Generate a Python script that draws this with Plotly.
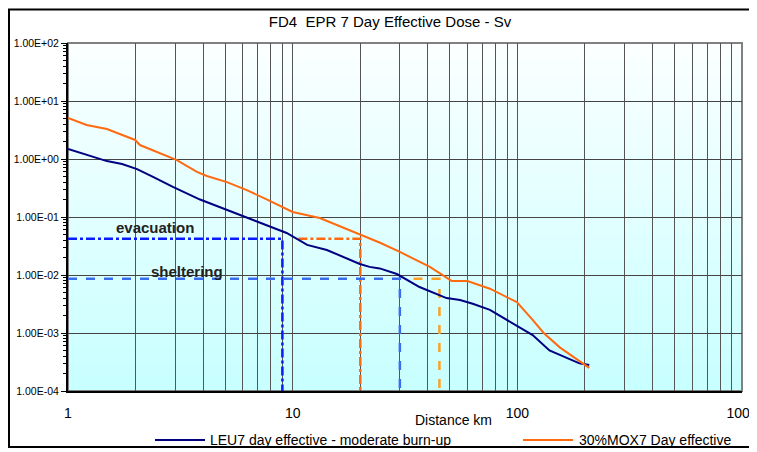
import plotly.graph_objects as go
import numpy as np

# LEU 7 day effective - moderate burn-up
leu_km = [1, 1.25, 1.49, 1.74, 2.03, 2.39, 2.93, 3.87, 5.82, 9.4, 11.6, 14.2, 19.9, 22.0,
          24.4, 29.1, 36.7, 48.4, 55.6, 63.3, 75.5, 89.6, 102, 117, 139, 165, 189, 209]
leu_dose = [1.49, 1.13, 0.92, 0.82, 0.67, 0.49, 0.33, 0.20, 0.108, 0.053, 0.033, 0.027, 0.0155, 0.0138,
            0.0130, 0.0104, 0.0062, 0.0040, 0.0037, 0.0032, 0.0025, 0.00169, 0.00128, 0.00092,
            0.00050, 0.00037, 0.00030, 0.00028]

# 30%MOX 7 Day effective
mox_km = [1, 1.21, 1.49, 1.76, 1.99, 2.09, 2.49, 3.05, 3.75, 4.15, 5.1, 6.25, 7.7, 10.0, 13.2,
          19.9, 24.5, 30, 40.8, 51, 60, 75.5, 99.5, 117, 131, 155, 184, 209]
mox_dose = [5.1, 3.85, 3.29, 2.6, 2.13, 1.74, 1.32, 0.96, 0.60, 0.51, 0.40, 0.29, 0.20, 0.122, 0.096,
            0.051, 0.036, 0.025, 0.0138, 0.0079, 0.0079, 0.0058, 0.0034, 0.00168, 0.00100,
            0.00056, 0.00035, 0.00025]

# reference levels
evac_level = 0.042
shelter_level = 0.0086
evac_leu_km = 9
evac_mox_km = 20
shelter_leu_km = 30
shelter_mox_km = 45
floor = 1e-4

ytick_vals = [1e-4, 1e-3, 1e-2, 1e-1, 1, 10, 100]
ytick_text = ["1.00E-04", "1.00E-03", "1.00E-02", "1.00E-01", "1.00E+00", "1.00E+01", "1.00E+02"]
xtick_vals = [1, 10, 100, 1000]
xtick_text = ["1", "10", "100", "1000"]

leu_name = "LEU7 day effective - moderate burn-up"
mox_name = "30%MOX7 Day effective"
leu_color = "#000080"
mox_color = "#ff6a10"

fig = go.Figure()

# evacuation lines
fig.add_trace(go.Scatter(x=[1, evac_leu_km, evac_leu_km], y=[evac_level, evac_level, floor],
                         mode="lines", line=dict(color="#0a1aff", width=2.5, dash="dashdot"),
                         showlegend=False, hoverinfo="skip"))
fig.add_trace(go.Scatter(x=[10.6, evac_mox_km, evac_mox_km], y=[evac_level, evac_level, floor],
                         mode="lines", line=dict(color="#ff6a10", width=2.5, dash="dashdot"),
                         showlegend=False, hoverinfo="skip"))
# sheltering lines
fig.add_trace(go.Scatter(x=[1, shelter_leu_km, shelter_leu_km], y=[shelter_level, shelter_level, floor],
                         mode="lines", line=dict(color="#3a6cf0", width=2.5, dash="dash"),
                         showlegend=False, hoverinfo="skip"))
fig.add_trace(go.Scatter(x=[34.5, shelter_mox_km, shelter_mox_km], y=[shelter_level, shelter_level, floor],
                         mode="lines", line=dict(color="#ffa020", width=2.5, dash="dash"),
                         showlegend=False, hoverinfo="skip"))

fig.add_trace(go.Scatter(x=leu_km, y=leu_dose, mode="lines",
                         line=dict(color=leu_color, width=2), name=leu_name, showlegend=False))
fig.add_trace(go.Scatter(x=mox_km, y=mox_dose, mode="lines",
                         line=dict(color=mox_color, width=2), name=mox_name, showlegend=False))

# gradient background
shapes = []
n = 40
top = np.array([252, 255, 255])
bot = np.array([200, 255, 255])
for i in range(n):
    c = top + (bot - top) * (i + 0.5) / n
    shapes.append(dict(type="rect", xref="x domain", yref="y domain",
                       x0=0, x1=1, y0=1 - (i + 1) / n, y1=1 - i / n + 0.002,
                       fillcolor="rgb(%d,%d,%d)" % tuple(c), line=dict(width=0), layer="below"))
shapes.append(dict(type="rect", xref="x domain", yref="y domain", x0=0, x1=1, y0=0, y1=1,
                   line=dict(color="#808080", width=2), layer="below"))

# the page puts the figure 8px in from the top-left corner, so the figure is
# 749x444 and the plot area sits at 68..742 x 43..391 in page pixels
W, H = 749, 444


def px(v):
    return (v - 68) / 674


def py(v):
    return (391 - v) / 348


# outer frame
shapes.append(dict(type="rect", xref="paper", yref="paper",
                   x0=px(9), x1=px(770), y0=py(447), y1=py(9.5),
                   line=dict(color="black", width=2)))

# legend drawn below the plot
legend_y = py(440)
for (x0, x1), col in [((155, 205), leu_color), ((523, 573), mox_color)]:
    shapes.append(dict(type="line", xref="paper", yref="paper", x0=px(x0), x1=px(x1),
                       y0=legend_y, y1=legend_y, line=dict(color=col, width=2)))

fig.update_layout(
    width=W, height=H,
    margin=dict(l=60, r=15, t=35, b=61, autoexpand=False),
    paper_bgcolor="white",
    plot_bgcolor="rgba(0,0,0,0)",
    font=dict(family="Arial, Liberation Sans", size=10, color="black"),
    title=dict(text="FD4  EPR 7 Day Effective Dose - Sv", x=(390 - 8) / W, xanchor="center",
               y=1 - (22 - 8) / H, yanchor="middle", font=dict(size=15)),
    shapes=shapes,
    showlegend=False,
    annotations=[
        dict(text="<b>evacuation</b>", x=np.log10(2.44), y=np.log10(0.065), xref="x", yref="y",
             showarrow=False, font=dict(size=15, color="#222222")),
        dict(text="<b>sheltering</b>", x=np.log10(3.39), y=np.log10(0.0113), xref="x", yref="y",
             showarrow=False, font=dict(size=15, color="#222222")),
        dict(text="Distance km", x=px(453), y=py(420), xref="paper", yref="paper",
             xanchor="center", yanchor="middle", showarrow=False, font=dict(size=14)),
        dict(text=leu_name, x=px(208), y=legend_y, xref="paper", yref="paper", xanchor="left",
             yanchor="middle", showarrow=False, font=dict(size=14)),
        dict(text=mox_name, x=px(577), y=legend_y, xref="paper", yref="paper", xanchor="left",
             yanchor="middle", showarrow=False, font=dict(size=14)),
    ],
)

fig.update_xaxes(type="log", range=[0, 3], tickvals=xtick_vals, ticktext=xtick_text,
                 showgrid=True, gridcolor="#555555", gridwidth=1,
                 minor=dict(showgrid=True, gridcolor="#555555", gridwidth=1, tickvals=[
                     m * 10 ** d for d in range(3) for m in range(2, 10)]),
                 showline=True, linecolor="black", linewidth=2,
                 ticks="", ticklabelstandoff=8, automargin=False, ticklabeloverflow="allow",
                 tickfont=dict(size=14), zeroline=False)
fig.update_yaxes(type="log", range=[-4, 2], tickvals=ytick_vals, ticktext=ytick_text,
                 showgrid=True, gridcolor="#444444", gridwidth=1,
                 minor=dict(ticks="outside", ticklen=3, tickcolor="black", showgrid=False,
                            tickvals=[m * 10 ** d for d in range(-4, 2) for m in range(2, 10)]),
                 showline=True, linecolor="black", linewidth=2,
                 ticks="outside", ticklen=5, tickcolor="black", automargin=False,
                 tickfont=dict(size=10.5), zeroline=False)

fig.write_html("out.html")
